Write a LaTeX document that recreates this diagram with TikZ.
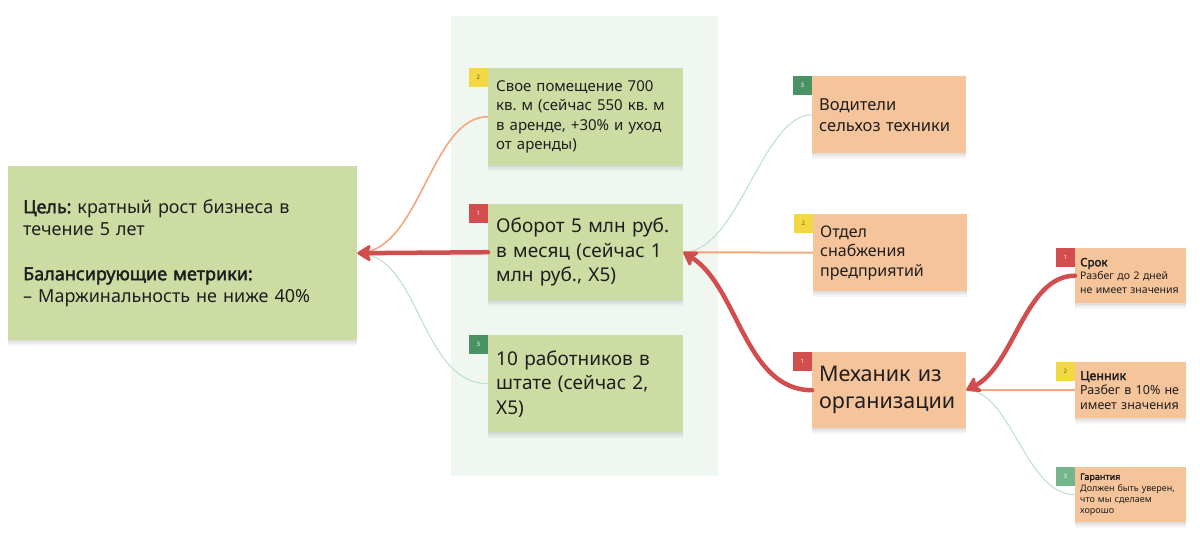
\documentclass[tikz,border=0pt]{standalone}
\usepackage{fontspec}
\setmainfont{Noto Sans}[AutoFakeBold=2.2]
\usetikzlibrary{arrows.meta}
\definecolor{boxgreen}{HTML}{CDDCA3}
\definecolor{boxorange}{HTML}{F6C49A}
\definecolor{panelc}{HTML}{F0F7F0}
\definecolor{redc}{HTML}{D24D4D}
\definecolor{yel}{HTML}{F2D843}
\definecolor{dgreen}{HTML}{4A9163}
\definecolor{lgreen}{HTML}{74B58C}
\definecolor{orline}{HTML}{F4A67C}
\definecolor{grline}{HTML}{BFE2CF}
\definecolor{txt}{HTML}{1E1E1E}
\definecolor{yeltxt}{HTML}{6F6320}
\frenchspacing
\tikzset{
 softshadow/.style={
   preaction={fill=black, fill opacity=0.035, transform canvas={yshift=-6pt}},
   preaction={fill=black, fill opacity=0.04, transform canvas={yshift=-4pt}},
   preaction={fill=black, fill opacity=0.05, transform canvas={yshift=-2pt}}},
 card/.style={anchor=north west, inner ysep=0pt, align=left, text=txt, softshadow},
 gcard/.style={card, fill=boxgreen},
 ocard/.style={card, fill=boxorange},
 badge/.style={anchor=north east, minimum size=19pt, inner sep=0pt, font=\fontsize{6}{6}\selectfont, text=white},
 bigarrow/.style={draw=redc, line width=4.5pt, line cap=round, -{Stealth[length=16pt,width=20pt,inset=4pt,round]}},
 orangeline/.style={draw=orline, line width=1.6pt},
 greenline/.style={draw=grline, line width=1.1pt},
}
\begin{document}
\begin{tikzpicture}[x=1pt,y=-1pt]
\useasboundingbox[fill=white] (0,0) rectangle (1200,558);
\node[fill=panelc, anchor=north west, minimum width=267pt, minimum height=460pt, inner sep=0pt] (panel) at (451,16) {};

% goal
\node[gcard, text width=319pt, inner xsep=15pt, minimum height=174pt, font=\fontsize{18}{22.5}\selectfont] (goal) at (8,166)
 {{\bfseries Цель:} кратный рост бизнеса в\\ течение 5 лет\\[22pt]{\bfseries Балансирующие метрики:}\\ – Маржинальность не ниже 40\%};

% middle column
\node[gcard, text width=179pt, inner xsep=8pt, minimum height=97pt, font=\fontsize{15}{19.5}\selectfont] (svoe) at (488,68)
 {Свое помещение 700\\ кв. м (сейчас 550 кв. м\\ в аренде, +30\% и уход\\ от аренды)};
\node[gcard, text width=179pt, inner xsep=8pt, minimum height=96pt, font=\fontsize{19}{24.5}\selectfont] (obr) at (488,204)
 {Оборот 5 млн руб.\\ в месяц (сейчас 1\\ млн руб., Х5)};
\node[gcard, text width=179pt, inner xsep=8pt, minimum height=97pt, font=\fontsize{19}{24.5}\selectfont] (ten) at (488,335)
 {10 работников в\\ штате (сейчас 2,\\ Х5)};

% right column
\node[ocard, text width=140pt, inner xsep=7pt, minimum height=77pt, font=\fontsize{16.5}{21}\selectfont] (vod) at (812,76)
 {Водители\\ сельхоз техники};
\node[ocard, text width=140pt, inner xsep=7pt, minimum height=77pt, font=\fontsize{16}{19.5}\selectfont] (otd) at (813,214)
 {Отдел\\ снабжения\\ предприятий};
\node[ocard, text width=140pt, inner xsep=7pt, minimum height=76pt, font=\fontsize{21.5}{27}\selectfont] (mech) at (812,352)
 {Механик из\\ организации};

% far right
\node[ocard, text width=101pt, inner xsep=5pt, minimum height=55pt, font=\fontsize{10.5}{13.5}\selectfont] (srok) at (1075,248)
 {{\fontsize{11.5}{13.5}\selectfont\bfseries Срок}\\ Разбег до 2 дней\\ не имеет значения};
\node[ocard, text width=101pt, inner xsep=5pt, minimum height=56pt, font=\fontsize{12.5}{14.5}\selectfont] (cen) at (1075,362)
 {{\bfseries Ценник}\\ Разбег в 10\% не\\ имеет значения};
\node[ocard, text width=101pt, inner xsep=5pt, minimum height=55pt, font=\fontsize{9}{11.3}\selectfont] (gar) at (1075,467)
 {{\bfseries Гарантия}\\ Должен быть уверен,\\ что мы сделаем\\ хорошо};

% badges
\node[badge, fill=yel, text=yeltxt] (bsvoe) at (svoe.north west) {2};
\node[badge, fill=redc] (bobr) at (obr.north west) {1};
\node[badge, fill=dgreen] (bten) at (ten.north west) {3};
\node[badge, fill=dgreen] (bvod) at (vod.north west) {3};
\node[badge, fill=yel, text=yeltxt] (botd) at (otd.north west) {2};
\node[badge, fill=redc] (bmech) at (mech.north west) {1};
\node[badge, fill=redc] (bsrok) at (srok.north west) {1};
\node[badge, fill=yel, text=yeltxt] (bcen) at (cen.north west) {2};
\node[badge, fill=lgreen] (bgar) at (gar.north west) {3};

% thin connectors
\draw[orangeline] (svoe.west) .. controls +(-58,0) and +(63,0) .. (goal.east);
\draw[greenline] (ten.west) .. controls +(-68,0) and +(63,0) .. (goal.east);
\draw[greenline] (vod.west) .. controls +(-50,0) and +(55,0) .. (obr.east);
\draw[orangeline, line width=2pt] (otd.west) -- (obr.east);
\draw[orangeline, line width=2pt] (cen.west) -- (mech.east);
\draw[greenline] (gar.west) .. controls +(-50,0) and +(45,0) .. (mech.east);

% thick red connectors
\draw[bigarrow] (obr.west) -- (goal.east);
\draw[bigarrow] (mech.west) .. controls +(-67,0) and +(55,35) .. (obr.east);
\draw[bigarrow] (srok.west) .. controls +(-50,0) and +(48,-25) .. (mech.east);
\end{tikzpicture}
\end{document}
